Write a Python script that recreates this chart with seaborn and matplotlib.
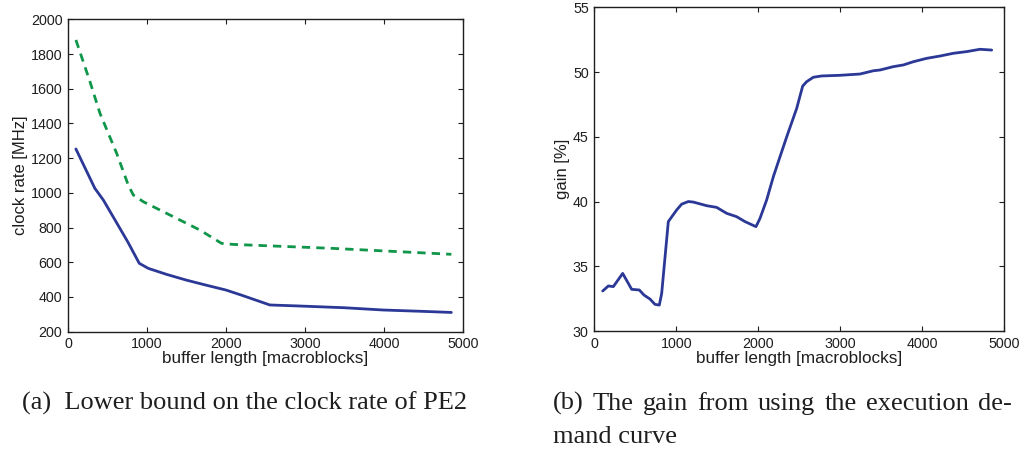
import matplotlib
matplotlib.use("Agg")
import matplotlib.pyplot as plt
import seaborn as sns
import pandas as pd

# ---- data ----
solid_x = [100, 340, 447, 600, 760, 902, 1016, 1250, 1500, 1750, 2000, 2200, 2555, 2934, 3500, 3988, 4500, 4853]
solid_y = [1253, 1026, 959, 840, 715, 594, 565, 530, 497, 468, 440, 410, 354, 348, 338, 325, 317, 311]

dash_x = [100, 278, 405, 616, 763, 826, 953, 1248, 1669, 1944, 2091, 3356, 4853]
dash_y = [1881, 1641, 1458, 1228, 1045, 988, 949, 882, 786, 709, 703, 680, 646]

gain_x = [102, 171, 232, 346, 456, 549, 606, 679, 740, 793, 822, 903, 1005, 1066, 1147, 1208,
          1371, 1493, 1615, 1737, 1839, 1973, 2022, 2103, 2185, 2246, 2348, 2470, 2543, 2592,
          2673, 2775, 2998, 3243, 3405, 3487, 3650, 3772, 3894, 4056, 4219, 4382, 4544, 4707, 4850]
gain_y = [33.09, 33.48, 33.43, 34.45, 33.22, 33.17, 32.78, 32.47, 32.06, 32.0, 32.9, 38.45,
          39.35, 39.8, 40.0, 39.96, 39.68, 39.55, 39.09, 38.83, 38.45, 38.06, 38.7, 40.12, 41.92,
          43.08, 45.0, 47.2, 48.92, 49.26, 49.6, 49.7, 49.75, 49.85, 50.1, 50.16, 50.42, 50.55,
          50.8, 51.06, 51.24, 51.45, 51.58, 51.76, 51.7]

x_ticks = [0, 1000, 2000, 3000, 4000, 5000]
left_yticks = [200, 400, 600, 800, 1000, 1200, 1400, 1600, 1800, 2000]
right_yticks = [30, 35, 40, 45, 50, 55]

xlabel = "buffer length [macroblocks]"
left_ylabel = "clock rate [MHz]"
right_ylabel = "gain [%]"
caption_a = "(a)  Lower bound on the clock rate of PE2"
caption_b_line1 = ["(b)", "The", "gain", "from", "using", "the", "execution", "de-"]
caption_b_line2 = "mand curve"

BLUE = "#2B3896"
GREEN = "#10964A"
INK = "#1e1e1e"

sns.set_style("ticks")
plt.rcParams["font.family"] = ["Liberation Sans", "DejaVu Sans"]
plt.rcParams["xtick.direction"] = "in"
plt.rcParams["ytick.direction"] = "in"

fig = plt.figure(figsize=(10.27, 4.5), dpi=100)
ax1 = fig.add_axes([0.0662, 0.2629, 0.3846, 0.6942])
ax2 = fig.add_axes([0.5787, 0.2644, 0.3989, 0.7193])

df_s = pd.DataFrame({"x": solid_x, "y": solid_y})
df_d = pd.DataFrame({"x": dash_x, "y": dash_y})
df_g = pd.DataFrame({"x": gain_x, "y": gain_y})

sns.lineplot(data=df_d, x="x", y="y", ax=ax1, color=GREEN, lw=2.0, sort=False, estimator=None)
ax1.lines[-1].set_dashes([3, 2.2])
sns.lineplot(data=df_s, x="x", y="y", ax=ax1, color=BLUE, lw=2.0, sort=False, estimator=None)
sns.lineplot(data=df_g, x="x", y="y", ax=ax2, color=BLUE, lw=2.0, sort=False, estimator=None)

for ax, yt, ylab in [(ax1, left_yticks, left_ylabel), (ax2, right_yticks, right_ylabel)]:
    ax.set_xlim(0, 5000)
    ax.set_ylim(yt[0], yt[-1])
    ax.set_xticks(x_ticks)
    ax.set_yticks(yt)
    ax.set_xticklabels([str(v) for v in x_ticks])
    ax.set_yticklabels([str(v) for v in yt])
    ax.tick_params(axis="both", which="both", direction="in", top=True, right=True,
                   length=3.5, width=0.8, labelsize=10.3, pad=4, colors=INK)
    for sp in ax.spines.values():
        sp.set_visible(True)
        sp.set_linewidth(1.0)
        sp.set_color(INK)
    ax.set_xlabel(xlabel, fontsize=12.3, labelpad=0, color=INK)
    ax.set_ylabel(ylab, fontsize=12, labelpad=2, color=INK)

# captions
serif = ["Liberation Serif", "DejaVu Serif"]
CAP_FS = 19
W, H = 1027, 450
fig.text(22 / W, 40 / H, caption_a, family=serif, fontsize=CAP_FS,
         ha="left", va="baseline", color=INK)

# justified first line of caption (b)
fig.canvas.draw()
renderer = fig.canvas.get_renderer()
x_left, x_right = 553, 1012
txts = [fig.text(0, 40 / H, w, family=serif, fontsize=CAP_FS, ha="left", va="baseline",
                 color=INK) for w in caption_b_line1]
widths = [t.get_window_extent(renderer).width for t in txts]
gap = (x_right - x_left - sum(widths)) / (len(txts) - 1)
cur = x_left
for t, w in zip(txts, widths):
    t.set_x(cur / W)
    cur += w + gap
fig.text(x_left / W, 7 / H, caption_b_line2, family=serif, fontsize=CAP_FS, ha="left",
         va="baseline", color=INK)

fig.savefig("out.png", dpi=100)
